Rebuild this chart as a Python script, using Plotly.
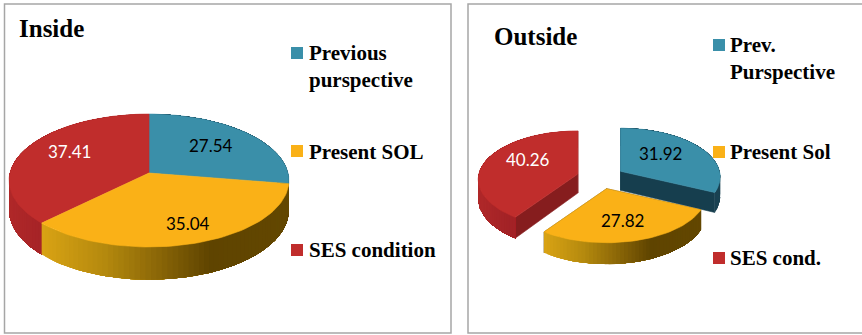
import math
import plotly.graph_objects as go

# Share of each category, clockwise from twelve o'clock
inside_labels = ["Previous<br>purspective", "Present SOL", "SES condition"]
inside_values = [27.54, 35.04, 37.41]
outside_labels = ["Prev.<br>Purspective", "Present Sol", "SES cond."]
outside_values = [31.92, 27.82, 40.26]

TOP_COLORS = ["#3a8fa9", "#fab117", "#c02d2c"]
CUT_COLORS = ["#163e4e", "#5f4400", "#861d1e"]
# Shading along the curved rim, left to right
RIM_STOPS = [
    [(0, "#1a4252"), (1, "#1a4252")],
    [(0, "#d9a314"), (0.25, "#b58a0e"), (0.45, "#8f6a08"), (0.68, "#5f4400"), (1, "#634700")],
    [(0, "#b02829"), (0.3, "#a32226"), (1, "#a32226")],
]
TILT = 0.113  # foreshortening of the disc towards the back


def hex_rgb(c):
    return tuple(int(c[i:i + 2], 16) for i in (1, 3, 5))


def shade(stops, t):
    t = max(0.0, min(1.0, t))
    for (t0, c0), (t1, c1) in zip(stops, stops[1:]):
        if t <= t1:
            f = (t - t0) / (t1 - t0)
            a, b = hex_rgb(c0), hex_rgb(c1)
            return "rgb(%d,%d,%d)" % tuple(round(a[i] + (b[i] - a[i]) * f) for i in range(3))
    return stops[-1][1]


def poly(fig, xs, ys, color, name, edge=0.6):
    fig.add_trace(go.Scatter(
        x=xs + xs[:1], y=ys + ys[:1], mode="lines", fill="toself", fillcolor=color,
        line=dict(color=color, width=edge), name=name, hoverinfo="skip", showlegend=False,
    ))


def draw_pie(fig, values, labels, cx, cy, rx, ry, depth, explode, order):
    total = sum(values)
    spans, a = [], 0.0
    for v in values:
        spans.append((a, a + 360 * v / total))
        a += 360 * v / total

    for i in order:
        start, end = spans[i]
        mid = math.radians((start + end) / 2)
        # Pull the slice out along its bisector
        ax = cx + explode * rx * math.sin(mid)
        ay = cy - explode * ry * math.cos(mid)

        def proj(deg):
            th = math.radians(deg)
            X, Y = math.sin(th), math.cos(th)
            w = 1 + TILT * Y
            return ax + rx * X / w, ay - ry * Y / w, depth / w

        steps = max(8, int((end - start) / 2))
        arc = [proj(start + (end - start) * k / steps) for k in range(steps + 1)]
        xmin = min(p[0] for p in arc)
        xmax = max(p[0] for p in arc)

        if explode > 0:
            for p in (arc[0], arc[-1]):
                poly(fig, [ax, p[0], p[0], ax], [ay, p[1], p[1] + p[2], ay + depth],
                     CUT_COLORS[i], labels[i] + " cut")

        # Slices run clockwise, so the front rim travels leftwards: paint it in
        # reverse, each band overlapping everything after it so no seams show.
        rim = arc[::-1]
        for k in range(len(rim) - 1):
            tail = rim[k:]
            t = ((rim[k][0] + rim[k + 1][0]) / 2 - xmin) / (xmax - xmin)
            xs = [p[0] for p in tail] + [p[0] for p in tail[::-1]]
            ys = [p[1] for p in tail] + [p[1] + p[2] for p in tail[::-1]]
            poly(fig, xs, ys, shade(RIM_STOPS[i], t), labels[i] + " rim", edge=0)

        poly(fig, [ax] + [p[0] for p in arc], [ay] + [p[1] for p in arc],
             TOP_COLORS[i], labels[i].replace("<br>", " "))


def add_legend(fig, labels, swatch_x, swatch_ys, text_x, text_ys):
    fig.add_trace(go.Scatter(
        x=[swatch_x] * len(labels), y=swatch_ys, mode="markers", hoverinfo="skip", showlegend=False,
        marker=dict(symbol="square", size=12, color=TOP_COLORS, line=dict(width=0)),
    ))
    for lab, y in zip(labels, text_ys):
        bold = "<br>".join(f"<b>{part}</b>" for part in lab.split("<br>"))
        fig.add_annotation(x=text_x, y=y, text=bold, xanchor="left", yanchor="middle", align="left",
                           showarrow=False, font=dict(family="Liberation Serif", size=21, color="#000000"))


def add_values(fig, values, xs, ys, colors):
    for v, x, y, c in zip(values, xs, ys, colors):
        fig.add_annotation(x=x, y=y, text=f"{v:.2f}", showarrow=False, xanchor="center", yanchor="middle",
                           font=dict(family="Lato", size=17, color=c))


fig = go.Figure()
draw_pie(fig, inside_values, inside_labels, 149, 173, 139, 65.6, 29, 0, [0, 2, 1])
draw_pie(fig, outside_values, outside_labels, 600.5, 177.5, 99, 48, 19, 0.24, [2, 0, 1])

add_values(fig, inside_values, [211, 188, 69], [145, 223, 151], ["#000000", "#000000", "#ffffff"])
add_values(fig, outside_values, [660, 622, 528], [153, 220, 159], ["#000000", "#000000", "#ffffff"])

add_legend(fig, inside_labels, 297, [53, 151, 250], 307, [66, 152, 250])
add_legend(fig, outside_labels, 719, [45, 152, 258], 728, [58, 152, 258])

for text, x, y in [("Inside", 17, 28), ("Outside", 492, 36)]:
    fig.add_annotation(x=x, y=y, text=f"<b>{text}</b>", showarrow=False, xanchor="left", yanchor="middle",
                       font=dict(family="Liberation Serif", size=25, color="#000000"))

# Panel frames
for x0, x1 in [(4.5, 451), (468, 866)]:
    fig.add_shape(type="rect", x0=x0, x1=x1, y0=4, y1=333, line=dict(color="#a6a6a6", width=1.5), layer="below")

fig.update_xaxes(range=[0, 862], visible=False, fixedrange=True)
fig.update_yaxes(range=[335, 0], visible=False, fixedrange=True)
fig.update_layout(width=862, height=335, margin=dict(l=0, r=0, t=0, b=0),
                  paper_bgcolor="white", plot_bgcolor="white", showlegend=False)
fig.write_html("out.html", config={"displayModeBar": False})
